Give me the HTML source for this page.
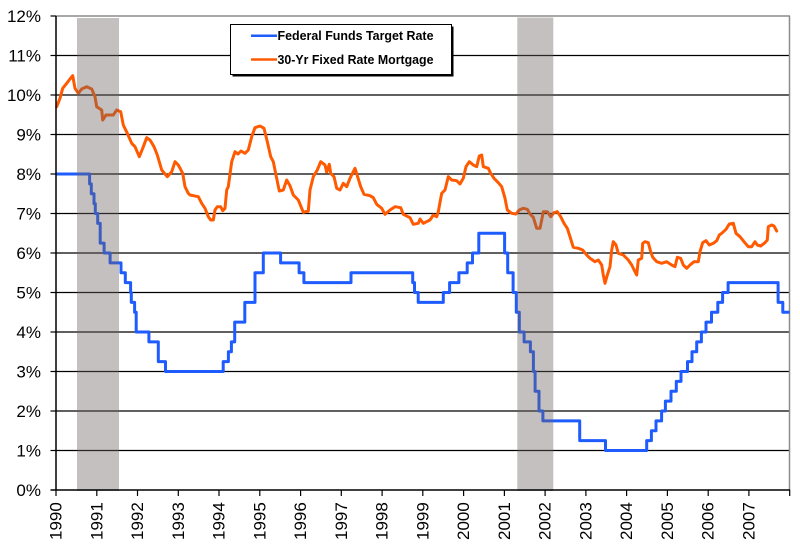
<!DOCTYPE html>
<html>
<head>
<meta charset="utf-8">
<style>
  html, body { margin: 0; padding: 0; background: #ffffff; }
  svg { display: block; }
  text { font-family: "Liberation Sans", Arial, sans-serif; fill: #000; }
</style>
</head>
<body>
<svg width="800" height="555" viewBox="0 0 800 555" xmlns="http://www.w3.org/2000/svg">
  <rect x="0" y="0" width="800" height="555" fill="#ffffff"/>

  <!-- gridlines -->
  <g stroke="#000" stroke-width="1.2">
    <line x1="56" y1="55.5" x2="789.5" y2="55.5"/>
    <line x1="56" y1="95" x2="789.5" y2="95"/>
    <line x1="56" y1="134.5" x2="789.5" y2="134.5"/>
    <line x1="56" y1="174" x2="789.5" y2="174"/>
    <line x1="56" y1="213.5" x2="789.5" y2="213.5"/>
    <line x1="56" y1="253" x2="789.5" y2="253"/>
    <line x1="56" y1="292.5" x2="789.5" y2="292.5"/>
    <line x1="56" y1="332" x2="789.5" y2="332"/>
    <line x1="56" y1="371.5" x2="789.5" y2="371.5"/>
    <line x1="56" y1="411" x2="789.5" y2="411"/>
    <line x1="56" y1="450.5" x2="789.5" y2="450.5"/>
  </g>
  <!-- frame top/right gray -->
  <line x1="56" y1="16" x2="790" y2="16" stroke="#8c8c8c" stroke-width="1.5"/>
  <line x1="789.5" y1="16" x2="789.5" y2="490" stroke="#8c8c8c" stroke-width="1.5"/>

  <!-- Federal Funds Target Rate -->
  <path fill="none" stroke="#1e5cff" stroke-width="3" stroke-linejoin="round" stroke-linecap="butt"
    d="M56,174 H89.6 V183.9 H91.3 V193.8 H94 V203.6 H95.3 V213.5 H97.7 V223.4 H100.2 V243.1 H104.1 V253 H110.1 V262.9 H121 V272.8 H125.3 V282.6 H130.6 V292.5 H131.3 V302.4 H134.6 V312.3 H136.2 V332 H148.9 V341.9 H158.3 V361.6 H165.5 V371.5 H223.2 V361.6 H228.4 V351.8 H231.4 V341.9 H234.7 V322.1 H244.8 V302.4 H255 V272.8 H263.3 V253 H280.6 V262.9 H299.1 V272.8 H303.9 V282.6 H351 V272.8 H412.7 V282.6 H414.5 V292.5 H418.2 V302.4 H443.3 V292.5 H449.6 V282.6 H458.9 V272.8 H467.2 V262.9 H472.5 V253 H478.8 V233.3 H504.6 V253 H507.7 V272.8 H513.1 V292.5 H516.3 V312.3 H519.3 V332 H524.1 V341.9 H530.4 V351.8 H533.4 V371.5 H535.1 V391.3 H539 V411 H542.9 V420.9 H579.7 V440.6 H605.5 V450.5 H646.7 V440.6 H651.4 V430.8 H656 V420.9 H661.6 V411 H665.4 V401.1 H671 V391.3 H676.3 V381.4 H681 V371.5 H687.5 V361.6 H692 V351.8 H696.7 V341.9 H701.4 V332 H706 V322.1 H711.5 V312.3 H717.8 V302.4 H722.6 V292.5 H728.1 V282.6 H778.1 V302.4 H782.8 V312.3 H789.7"/>

  <!-- 30-Yr Fixed Rate Mortgage -->
  <polyline fill="none" stroke="#ff5a00" stroke-width="3" stroke-linejoin="round" stroke-linecap="round"
    points="56.7,106.7 60,98.3 62.7,88.3 66.7,83.3 70,79 72.7,75.7 75,88.3 78.3,93.3 81.7,89 86.7,86.7 91.7,89 95,96.7 96.7,106.7 101.7,110 102.7,120 106,115 113.3,115 116.7,110 120.7,111.7 123.3,125 127.3,133.3 131.7,143.3 135,146.7 139.3,156.7 142.7,148.3 146.7,137.7 150,140 154,146.7 157.3,155 161.7,170 167.3,176.7 171.7,171.7 175,161.7 178.3,165 182.7,173.3 185,186.7 188.3,193.3 190,195 198.3,196.7 201.7,203.3 205,208.3 208.3,216.7 210.7,220 213.3,220 215,210 217.3,206.7 220.7,206.7 222.7,210.7 225,208.3 226.7,190 228.3,186.7 231.7,161.7 235,151.7 238,154 241,151 245,153.3 248.3,150 251.7,136.7 255,127.7 260,126 264,128.3 267.3,141.7 270.7,156.7 273.3,161.7 276,175 279.3,191 283.3,190 286.7,180 290,185.7 293.3,195 298.3,200 301.7,208.3 303.3,212.3 308.3,211 310,190 313.3,176.7 317.3,170 320.7,161.7 325,165 326.7,172.3 329.3,164.3 330.7,173.3 334,176.7 336.7,188.3 340,190 343.3,183.3 346.7,186.7 350,178.3 355,168.3 357.3,175.7 360.7,186.7 364,194.3 370,195.7 373.3,197.7 376.7,204.3 381.7,208.3 385,214.3 390,210 395,206.7 400.7,207.7 403.3,214.3 410,217.7 413.3,224.3 418.3,223.3 420,219 423.3,223.3 430,220 433.3,215 436.7,216.7 438.3,211.7 441.7,193.3 445,190 448.3,176.7 451.7,180 456.7,180.7 460,184 463.3,178.3 466,166.7 469.3,161.7 473.3,165 476.7,166.7 479.3,156 481.7,155 483.3,166.7 488.3,168.3 490.7,173.3 494,178.3 498.3,182.7 501.7,186.7 505,198.3 507.3,210 511.7,213.3 516,214 519.3,210 523.3,208.3 527.3,209.3 530,214 533.3,217.3 536.7,228.3 540,228.3 541.7,220 543.3,211.7 547.3,211.7 550.7,216.7 554,212.7 557.3,211.7 560.7,216.7 564,223.3 567.3,228.3 570,236.7 573.3,247.3 578.3,248.3 582.7,250 586.7,255 590,258.3 595,261.7 598.3,260 601.7,265 603.3,275 605,283.3 607.3,275 610,266.7 611.7,250 613.3,241.7 616,245 618.3,253.3 623.3,255 628.3,260 631.7,265 635,271.7 636.7,275 638.3,260 641.7,258.3 642.7,243.3 645,241.7 648.3,242.7 650.7,251.7 652.7,257.3 656.7,261.7 661.7,263.3 666.7,261.7 671.7,265 675,266.7 677.3,257.3 680.7,258.3 683.3,265 686.7,268.3 690,265 694,261.7 698.3,261.7 700,251.7 702.7,242.7 706,240.7 709.3,245 713.3,243.3 716.7,240.7 719.3,235 721.7,233.3 726,229.3 729.3,224 733.3,223.3 736,233.3 740,236.7 744,241.7 748.3,246.7 751.7,246.7 755,241.7 757.3,245 760.7,246 765,242.7 767.3,240 768.3,226.7 771.7,225 774,226 776.7,231"/>

  <!-- recession bands (overlay) -->
  <rect x="77" y="18" width="42" height="473" fill="rgb(108,98,98)" fill-opacity="0.4"/>
  <rect x="517.3" y="17.5" width="36" height="473.5" fill="rgb(108,98,98)" fill-opacity="0.4"/>

  <!-- axes -->
  <line x1="56" y1="16" x2="56" y2="490" stroke="#000" stroke-width="1.5"/>
  <line x1="50.5" y1="490" x2="790" y2="490" stroke="#000" stroke-width="1.5"/>
  <g stroke="#000" stroke-width="1.2">
    <line x1="50.5" y1="16" x2="56" y2="16"/>
    <line x1="50.5" y1="55.5" x2="56" y2="55.5"/>
    <line x1="50.5" y1="95" x2="56" y2="95"/>
    <line x1="50.5" y1="134.5" x2="56" y2="134.5"/>
    <line x1="50.5" y1="174" x2="56" y2="174"/>
    <line x1="50.5" y1="213.5" x2="56" y2="213.5"/>
    <line x1="50.5" y1="253" x2="56" y2="253"/>
    <line x1="50.5" y1="292.5" x2="56" y2="292.5"/>
    <line x1="50.5" y1="332" x2="56" y2="332"/>
    <line x1="50.5" y1="371.5" x2="56" y2="371.5"/>
    <line x1="50.5" y1="411" x2="56" y2="411"/>
    <line x1="50.5" y1="450.5" x2="56" y2="450.5"/>
  </g>
  <g stroke="#000" stroke-width="1.2">
    <line x1="56" y1="490" x2="56" y2="496"/>
    <line x1="96.8" y1="490" x2="96.8" y2="496"/>
    <line x1="137.5" y1="490" x2="137.5" y2="496"/>
    <line x1="178.3" y1="490" x2="178.3" y2="496"/>
    <line x1="219" y1="490" x2="219" y2="496"/>
    <line x1="259.8" y1="490" x2="259.8" y2="496"/>
    <line x1="300.6" y1="490" x2="300.6" y2="496"/>
    <line x1="341.3" y1="490" x2="341.3" y2="496"/>
    <line x1="382.1" y1="490" x2="382.1" y2="496"/>
    <line x1="422.8" y1="490" x2="422.8" y2="496"/>
    <line x1="463.6" y1="490" x2="463.6" y2="496"/>
    <line x1="504.4" y1="490" x2="504.4" y2="496"/>
    <line x1="545.1" y1="490" x2="545.1" y2="496"/>
    <line x1="585.9" y1="490" x2="585.9" y2="496"/>
    <line x1="626.6" y1="490" x2="626.6" y2="496"/>
    <line x1="667.4" y1="490" x2="667.4" y2="496"/>
    <line x1="708.2" y1="490" x2="708.2" y2="496"/>
    <line x1="748.9" y1="490" x2="748.9" y2="496"/>
    <line x1="789.7" y1="490" x2="789.7" y2="496"/>
  </g>

  <!-- y labels -->
  <g font-size="17" text-anchor="end">
    <text x="41" y="22">12%</text>
    <text x="41" y="61.5">11%</text>
    <text x="41" y="101">10%</text>
    <text x="41" y="140.5">9%</text>
    <text x="41" y="180">8%</text>
    <text x="41" y="219.5">7%</text>
    <text x="41" y="259">6%</text>
    <text x="41" y="298.5">5%</text>
    <text x="41" y="338">4%</text>
    <text x="41" y="377.5">3%</text>
    <text x="41" y="417">2%</text>
    <text x="41" y="456.5">1%</text>
    <text x="41" y="496">0%</text>
  </g>

  <!-- x labels -->
  <g font-size="17">
    <text transform="translate(61.5,540) rotate(-90)">1990</text>
    <text transform="translate(102.3,540) rotate(-90)">1991</text>
    <text transform="translate(143,540) rotate(-90)">1992</text>
    <text transform="translate(183.8,540) rotate(-90)">1993</text>
    <text transform="translate(224.5,540) rotate(-90)">1994</text>
    <text transform="translate(265.3,540) rotate(-90)">1995</text>
    <text transform="translate(306.1,540) rotate(-90)">1996</text>
    <text transform="translate(346.8,540) rotate(-90)">1997</text>
    <text transform="translate(387.6,540) rotate(-90)">1998</text>
    <text transform="translate(428.3,540) rotate(-90)">1999</text>
    <text transform="translate(469.1,540) rotate(-90)">2000</text>
    <text transform="translate(509.9,540) rotate(-90)">2001</text>
    <text transform="translate(550.6,540) rotate(-90)">2002</text>
    <text transform="translate(591.4,540) rotate(-90)">2003</text>
    <text transform="translate(632.1,540) rotate(-90)">2004</text>
    <text transform="translate(672.9,540) rotate(-90)">2005</text>
    <text transform="translate(713.7,540) rotate(-90)">2006</text>
    <text transform="translate(754.4,540) rotate(-90)">2007</text>
  </g>

  <!-- legend -->
  <rect x="232.5" y="26.5" width="221" height="50" fill="#000"/>
  <rect x="230.5" y="24.5" width="221" height="50" fill="#ffffff" stroke="#000" stroke-width="1"/>
  <line x1="251" y1="35.7" x2="277" y2="35.7" stroke="#1e5cff" stroke-width="2.5"/>
  <line x1="251" y1="59.5" x2="277" y2="59.5" stroke="#ff5a00" stroke-width="2.5"/>
  <text x="277.5" y="40" font-size="12.5" font-weight="bold" textLength="156" lengthAdjust="spacingAndGlyphs">Federal Funds Target Rate</text>
  <text x="277.5" y="64" font-size="12.5" font-weight="bold" textLength="156" lengthAdjust="spacingAndGlyphs">30-Yr Fixed Rate Mortgage</text>
</svg>
</body>
</html>
